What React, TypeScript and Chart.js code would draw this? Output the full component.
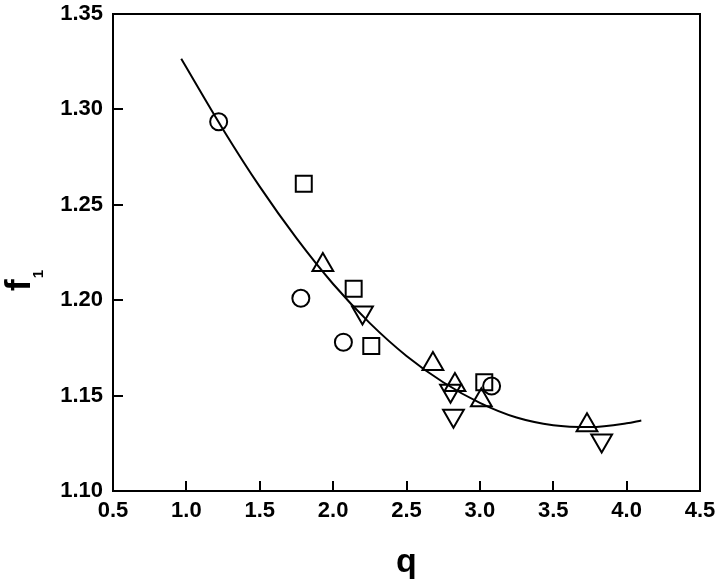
import React, { useEffect, useRef } from "react";
import { Chart, registerables } from "chart.js";

Chart.register(...registerables);

// Data
const circleX = [1.22, 1.78, 2.07, 3.08];
const circleY = [1.2935, 1.201, 1.178, 1.155];
const squareX = [1.8, 2.14, 2.26, 3.03];
const squareY = [1.261, 1.206, 1.176, 1.157];
const triUpX = [1.93, 2.68, 2.83, 3.01, 3.73];
const triUpY = [1.2185, 1.1665, 1.1555, 1.1475, 1.1345];
const triDownX = [2.2, 2.8, 2.82, 3.83];
const triDownY = [1.1935, 1.1525, 1.1395, 1.1265];
const fitX = [0.965, 1.25, 1.5, 1.75, 2.0, 2.25, 2.5, 2.75, 3.0, 3.25, 3.5, 3.75, 4.0, 4.1];
const fitY = [1.3265, 1.2895, 1.2595, 1.2325, 1.2085, 1.188, 1.1708, 1.157, 1.1462, 1.1385, 1.1345, 1.1335, 1.1355, 1.137];
const xTickValues = [0.5, 1.0, 1.5, 2.0, 2.5, 3.0, 3.5, 4.0, 4.5];
const yTickValues = [1.1, 1.15, 1.2, 1.25, 1.3, 1.35];

const FONT = "'Liberation Sans', Arial, sans-serif";

const pts = (xs: number[], ys: number[]) => xs.map((x, i) => ({ x, y: ys[i] }));

const framePlugin = {
  id: "frame",
  afterDatasetsDraw(chart: any) {
    const { ctx, chartArea } = chart;
    const xs = chart.scales.x;
    const ys = chart.scales.y;
    ctx.save();
    ctx.strokeStyle = "#000";
    ctx.lineWidth = 2;
    ctx.strokeRect(chartArea.left, chartArea.top, chartArea.right - chartArea.left, chartArea.bottom - chartArea.top);
    ctx.beginPath();
    xTickValues.slice(1, -1).forEach((v) => {
      const px = Math.round(xs.getPixelForValue(v));
      ctx.moveTo(px, chartArea.bottom);
      ctx.lineTo(px, chartArea.bottom - 10);
    });
    yTickValues.slice(1, -1).forEach((v) => {
      const py = Math.round(ys.getPixelForValue(v));
      ctx.moveTo(chartArea.left, py);
      ctx.lineTo(chartArea.left + 10, py);
    });
    ctx.stroke();
    ctx.restore();
  },
  afterDraw(chart: any) {
    const { ctx } = chart;
    ctx.save();
    ctx.fillStyle = "#000";
    ctx.translate(30, 291);
    ctx.rotate(-Math.PI / 2);
    ctx.textAlign = "left";
    ctx.textBaseline = "alphabetic";
    ctx.font = `bold 35px ${FONT}`;
    ctx.fillText("f", 0, 0);
    const w = ctx.measureText("f").width;
    ctx.font = `bold 15px ${FONT}`;
    ctx.fillText("1", w + 1, 13);
    ctx.restore();
  },
};

export default function App() {
  const ref = useRef<HTMLCanvasElement | null>(null);
  useEffect(() => {
    if (!ref.current) return;
    const tickFont = { family: FONT, size: 22, weight: "bold" as const };
    const chart = new Chart(ref.current, {
      type: "scatter",
      data: {
        datasets: [
          {
            label: "fit",
            data: pts(fitX, fitY),
            showLine: true,
            borderColor: "#000",
            borderWidth: 2,
            pointRadius: 0,
            cubicInterpolationMode: "monotone",
            fill: false,
          } as any,
          {
            label: "circles",
            data: pts(circleX, circleY),
            pointStyle: "circle",
            pointRadius: 8.5,
            borderColor: "#000",
            borderWidth: 2,
            backgroundColor: "rgba(0,0,0,0)",
          },
          {
            label: "squares",
            data: pts(squareX, squareY),
            pointStyle: "rect",
            pointRadius: 11.3,
            borderColor: "#000",
            borderWidth: 2,
            backgroundColor: "rgba(0,0,0,0)",
          },
          {
            label: "triangles up",
            data: pts(triUpX, triUpY),
            pointStyle: "triangle",
            pointRadius: 12,
            borderColor: "#000",
            borderWidth: 2,
            backgroundColor: "rgba(0,0,0,0)",
          },
          {
            label: "triangles down",
            data: pts(triDownX, triDownY),
            pointStyle: "triangle",
            rotation: 180,
            pointRadius: 12,
            borderColor: "#000",
            borderWidth: 2,
            backgroundColor: "rgba(0,0,0,0)",
          },
        ],
      },
      options: {
        responsive: false,
        animation: false,
        devicePixelRatio: 1,
        layout: { padding: { top: 14, right: 20, left: 0, bottom: 0 } },
        plugins: {
          legend: { display: false },
          tooltip: { enabled: false },
        },
        scales: {
          x: {
            type: "linear",
            min: 0.5,
            max: 4.5,
            afterBuildTicks: (s: any) => {
              s.ticks = xTickValues.map((v) => ({ value: v }));
            },
            afterFit: (s: any) => {
              s.height = 93;
              s.paddingLeft = 0;
              s.paddingRight = 0;
            },
            ticks: {
              callback: (v: any) => Number(v).toFixed(1),
              font: tickFont,
              color: "#000",
              padding: 7,
              maxRotation: 0,
              autoSkip: false,
            },
            grid: { display: false, drawTicks: false },
            border: { display: false },
            title: {
              display: true,
              text: "q",
              color: "#000",
              font: { family: FONT, size: 34, weight: "bold" },
              padding: { top: 0, bottom: 1 },
            },
          },
          y: {
            type: "linear",
            min: 1.1,
            max: 1.35,
            afterBuildTicks: (s: any) => {
              s.ticks = yTickValues.map((v) => ({ value: v }));
            },
            afterFit: (s: any) => {
              s.width = 113;
              s.paddingTop = 0;
              s.paddingBottom = 0;
            },
            ticks: {
              callback: (v: any) => Number(v).toFixed(2),
              font: tickFont,
              color: "#000",
              padding: 10,
              autoSkip: false,
            },
            grid: { display: false, drawTicks: false },
            border: { display: false },
          },
        },
      },
      plugins: [framePlugin],
    });
    return () => chart.destroy();
  }, []);

  return (
    <div style={{ position: "fixed", left: 0, top: 0, width: 720, height: 584, background: "#fff" }}>
      <canvas ref={ref} width={720} height={584} style={{ display: "block" }} />
    </div>
  );
}
